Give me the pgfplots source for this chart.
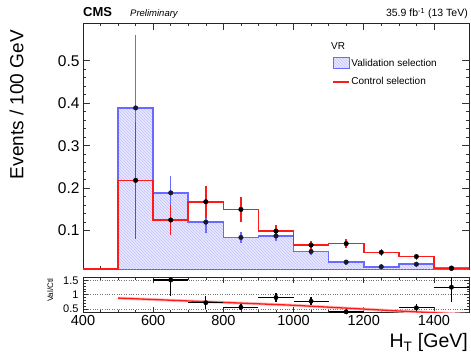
\documentclass[border=0pt]{standalone}
\usepackage{fontspec}
\setmainfont{Liberation Sans}
\usepackage{pgfplots}
\pgfplotsset{compat=1.18}
\usetikzlibrary{patterns}
\definecolor{vblue}{RGB}{105,105,255}
\definecolor{vfill}{RGB}{232,232,255}
\definecolor{cred}{RGB}{255,25,25}
\definecolor{mk}{RGB}{25,25,45}
\pgfplotsset{
  boxleg/.style={legend image code/.code={\draw[##1] (0pt,-5.5pt) rectangle (16pt,5.5pt);}},
  lineleg/.style={legend image code/.code={\draw[##1] (0pt,0pt) -- (16pt,0pt);}},
}
\begin{document}
\begin{tikzpicture}
\useasboundingbox (-83pt,-85.7pt) rectangle (388pt,269.3pt);
\begin{axis}[
  name=main, at={(0,0)}, anchor=south west,
  scale only axis, width=386pt, height=246.3pt,
  xmin=400, xmax=1500, ymin=0.009, ymax=0.589,
  xtick={400,600,...,1400}, xticklabels={}, minor x tick num=3,
  ytick={0.1,0.2,0.3,0.4,0.5}, minor y tick num=4,
  tick align=inside, xtick pos=both, ytick pos=both,
  major tick length=7pt, minor tick length=3.5pt,
  tick style={black!80, line width=0.6pt},
  axis line style={black!85, line width=0.8pt},
  unbounded coords=jump,
  /pgf/number format/assume math mode=true,
  yticklabel style={font=\fontsize{15.5}{16}\selectfont, /pgf/number format/fixed, /pgf/number format/precision=1},
  legend style={draw=none, fill=none, at={(rel axis cs:0.638,0.799)}, anchor=west,
    font=\fontsize{10}{12}\selectfont, row sep=7pt, nodes={inner sep=1.5pt}},
  legend cell align=left,
]
\addlegendimage{boxleg, draw=vblue, line width=1.2pt, fill=vfill, postaction={pattern=north west lines, pattern color=vblue!40}}
\addlegendentry{Validation selection}
\addlegendimage{lineleg, draw=cred, line width=1.4pt}
\addlegendentry{Control selection}
% validation histogram (filled, hatched)
\addplot[const plot, draw=none, fill=vfill, postaction={pattern=north west lines, pattern color=vblue!40}, forget plot]
 coordinates {(400,0) (500,0.389) (600,0.189) (700,0.120) (800,0.084) (900,0.0875) (1000,0.051) (1100,0.026) (1200,0.015) (1300,0.021) (1400,0.012) (1500,0.012)} \closedcycle;
\addplot[const plot, draw=vblue, line width=1.6pt, forget plot]
 coordinates {(400,0) (500,0.389) (600,0.189) (700,0.120) (800,0.084) (900,0.0875) (1000,0.051) (1100,0.026) (1200,0.015) (1300,0.021) (1400,0.012) (1500,0.012)};
% control histogram
\addplot[const plot, draw=cred, line width=1.6pt, forget plot]
 coordinates {(400,0.0095) (500,0.2185) (600,0.125) (700,0.168) (800,0.150) (900,0.099) (1000,0.066) (1100,0.0695) (1200,0.049) (1300,0.039) (1400,0.011) (1500,0.011)};
% validation error bars (value -/+ error)
\addplot[draw=vblue, line width=1.4pt, forget plot]
 coordinates {(550,0.218) (550,0.560) (550,nan) (650,0.149) (650,0.229) (650,nan) (750,0.094) (750,0.146) (750,nan)
   (850,0.072) (850,0.096) (850,nan) (950,0.0755) (950,0.0995) (950,nan) (1050,0.043) (1050,0.059) (1050,nan)
   (1150,0.020) (1150,0.032) (1150,nan) (1250,0.010) (1250,0.020) (1250,nan) (1350,0.015) (1350,0.027) (1350,nan)
   (1450,0.007) (1450,0.017)};
% control error bars
\addplot[draw=cred, line width=1.4pt, forget plot]
 coordinates {(550,0.0815) (550,0.3555) (550,nan) (650,0.089) (650,0.161) (650,nan) (750,0.130) (750,0.206) (750,nan)
   (850,0.120) (850,0.180) (850,nan) (950,0.084) (950,0.114) (950,nan) (1050,0.056) (1050,0.076) (1050,nan)
   (1150,0.0595) (1150,0.0795) (1150,nan) (1250,0.041) (1250,0.057) (1250,nan) (1350,0.032) (1350,0.046) (1350,nan)
   (1450,0.007) (1450,0.015)};
% points
\addplot[only marks, mark=*, mark size=2.3pt, color=mk, forget plot]
 coordinates {(550,0.389) (650,0.189) (750,0.120) (850,0.084) (950,0.0875) (1050,0.051) (1150,0.026) (1250,0.015) (1350,0.021) (1450,0.012)};
\addplot[only marks, mark=*, mark size=2.3pt, color=black, forget plot]
 coordinates {(550,0.2185) (650,0.125) (750,0.168) (850,0.150) (950,0.099) (1050,0.066) (1150,0.0695) (1250,0.049) (1350,0.039) (1450,0.011)};
\end{axis}
\begin{axis}[
  name=ratio, at={(0,-8.4pt)}, anchor=north west,
  scale only axis, width=386pt, height=34.6pt,
  xmin=400, xmax=1500, ymin=0.385, ymax=1.59,
  xtick={400,600,...,1400}, minor x tick num=3,
  ytick={0.5,1,1.5}, yticklabels={0.5,1,1.5}, minor y tick num=4,
  tick align=inside, xtick pos=both, ytick pos=both,
  major tick length=5pt, minor tick length=2.5pt,
  tick style={black!80, line width=0.6pt},
  axis line style={black!85, line width=0.8pt},
  ymajorgrids, grid style={dotted, black!55, line width=0.6pt},
  unbounded coords=jump,
  /pgf/number format/assume math mode=true,
  xticklabel style={font=\fontsize{14.5}{15}\selectfont, /pgf/number format/1000 sep={}},
  yticklabel style={font=\fontsize{11}{12}\selectfont, xshift=-1pt},
]
\addplot[draw=red!25, line width=3pt, forget plot] coordinates {(500,0.88) (1000,0.63) (1150,0.53) (1300,0.43) (1400,0.37) (1500,0.31)};
\addplot[draw=cred, line width=1.3pt, forget plot] coordinates {(500,0.88) (1000,0.63) (1150,0.53) (1300,0.43) (1400,0.37) (1500,0.31)};
% ratio error bars: vertical then horizontal (bin width)
\addplot[draw=black, line width=1.3pt, forget plot]
 coordinates {(650,0.94) (650,2.08) (650,nan) (600,1.51) (700,1.51) (700,nan)
   (750,0.50) (750,0.94) (750,nan) (700,0.72) (800,0.72) (800,nan)
   (850,0.46) (850,0.66) (850,nan) (800,0.56) (900,0.56) (900,nan)
   (950,0.74) (950,1.06) (950,nan) (900,0.90) (1000,0.90) (1000,nan)
   (1050,0.63) (1050,0.91) (1050,nan) (1000,0.77) (1100,0.77) (1100,nan)
   (1150,0.30) (1150,0.50) (1150,nan) (1100,0.40) (1200,0.40) (1200,nan)
   (1350,0.42) (1350,0.66) (1350,nan) (1300,0.54) (1400,0.54) (1400,nan)
   (1450,0.76) (1450,1.76) (1450,nan) (1400,1.26) (1500,1.26)};
\addplot[only marks, mark=*, mark size=2.2pt, color=black, forget plot]
 coordinates {(650,1.51) (750,0.72) (850,0.56) (950,0.90) (1050,0.77) (1150,0.40) (1350,0.54) (1450,1.26)};
\end{axis}
% texts
\node[anchor=base west, font=\fontsize{13}{14}\bfseries\selectfont, inner sep=0pt] at ([yshift=6pt]main.north west) {CMS};
\node[anchor=base west, font=\fontsize{9.5}{11}\itshape\selectfont, inner sep=0pt] at ([xshift=47pt,yshift=6pt]main.north west) {Preliminary};
\node[anchor=base east, font=\fontsize{10.5}{12}\selectfont, inner sep=0pt] at ([xshift=-1pt,yshift=6pt]main.north east) {35.9 fb\textsuperscript{-1} (13 TeV)};
\node[anchor=base west, font=\fontsize{10}{12}\selectfont, inner sep=0pt] at ([xshift=248pt,yshift=219.3pt]main.south west) {VR};
\node[rotate=90, anchor=base east, font=\fontsize{19}{20}\selectfont, inner sep=0pt] at ([xshift=-59.5pt,yshift=-7pt]main.north west) {Events / 100 GeV};
\node[rotate=90, anchor=base east, font=\fontsize{8}{9}\selectfont, inner sep=0pt] at ([xshift=-30pt,yshift=-1pt]ratio.north west) {Val/Ctl};
\node[anchor=base east, font=\fontsize{19.5}{20}\selectfont, inner sep=0pt] at ([xshift=-1pt,yshift=-35.7pt]ratio.south east) {H\textsubscript{T} [GeV]};
\end{tikzpicture}
\end{document}
